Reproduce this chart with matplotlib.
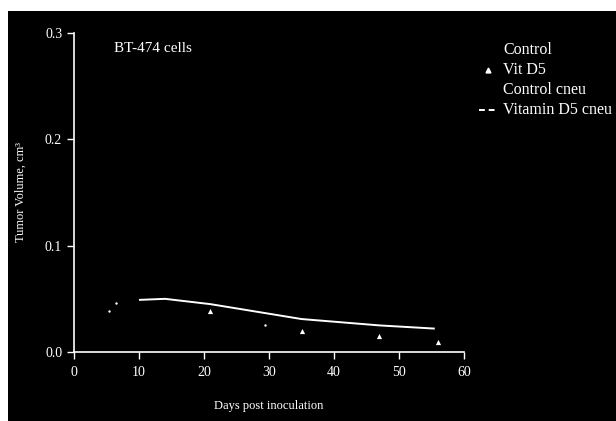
import matplotlib
matplotlib.use("Agg")
import matplotlib.pyplot as plt
import matplotlib.patches as mpatches
import matplotlib.lines as ml

plt.rcParams.update({"font.family": "Liberation Serif", "font.size": 10})

# values
ctrl_days = [10, 14, 21, 35, 47, 55.5]
ctrl_vol = [0.049, 0.050, 0.045, 0.031, 0.025, 0.022]
ctrl_pts_days = [5.4, 6.4, 29.4]
ctrl_pts_vol = [0.039, 0.046, 0.025]
vit_days = [21, 35, 47, 56]
vit_vol = [0.039, 0.020, 0.015, 0.009]
xticks = [0, 10, 20, 30, 40, 50, 60]
yticks = [0.0, 0.1, 0.2, 0.3]
ytick_labels = ["0.0", "0.1", "0.2", "0.3"]
legend_labels = ["Control", "Vit D5", "Control cneu", "Vitamin D5 cneu"]

W, H = 616, 421
fig = plt.figure(figsize=(W / 100, H / 100), dpi=100, facecolor="white")
# black scanned page with white margin top/left
fig.patches.append(mpatches.Rectangle((8 / W, 0), 1, (H - 11) / H, transform=fig.transFigure,
                                      facecolor="black", edgecolor="none", zorder=-10))

ax = fig.add_axes([74 / W, (H - 352) / H, (464 - 74) / W, (352 - 33) / H])
ax.set_facecolor("none")
ax.plot(ctrl_days, ctrl_vol, color="white", lw=1.4, solid_capstyle="butt")
ax.scatter(ctrl_pts_days, ctrl_pts_vol, s=3, c="white", linewidths=0)
ax.scatter(vit_days, vit_vol, marker="^", s=14, c="white", linewidths=0)

ax.set_xlim(0, 60); ax.set_ylim(0, 0.3)
ax.set_xticks(xticks)
ax.set_yticks(yticks); ax.set_yticklabels(ytick_labels)
for sp in ["top", "right"]:
    ax.spines[sp].set_visible(False)
for sp in ["left", "bottom"]:
    ax.spines[sp].set_color("white"); ax.spines[sp].set_linewidth(1.2)
ax.tick_params(colors="white", labelcolor="white", labelsize=10, length=5, width=1)
ax.tick_params(axis="x", pad=5)
ax.set_xlabel("Days post inoculation", color="white", fontsize=9)
ax.xaxis.set_label_coords(0.5, -48 / 319)
ax.set_ylabel("Tumor Volume, cm³", color="white", fontsize=9)
ax.yaxis.set_label_coords(-47 / 390, 0.5)

fig.text(114 / W, 1 - 48 / H, "BT-474 cells", color="white", fontsize=11, va="center")

# legend drawn by hand to the right of the axes
ys = [50, 70, 90, 110]
for lab, y in zip(legend_labels, ys):
    fig.text(503 / W, 1 - y / H, lab, color="white", fontsize=11.5, va="center")
fig.add_artist(ml.Line2D([488 / W], [1 - 70 / H], marker="^", markersize=3.5, color="white",
                         linestyle="", transform=fig.transFigure))
fig.add_artist(ml.Line2D([479 / W, 497 / W], [1 - 110 / H] * 2, color="white", lw=1.4,
                         linestyle=(0, (3, 2)), transform=fig.transFigure))

fig.savefig("out.png", dpi=100, facecolor=fig.get_facecolor())
